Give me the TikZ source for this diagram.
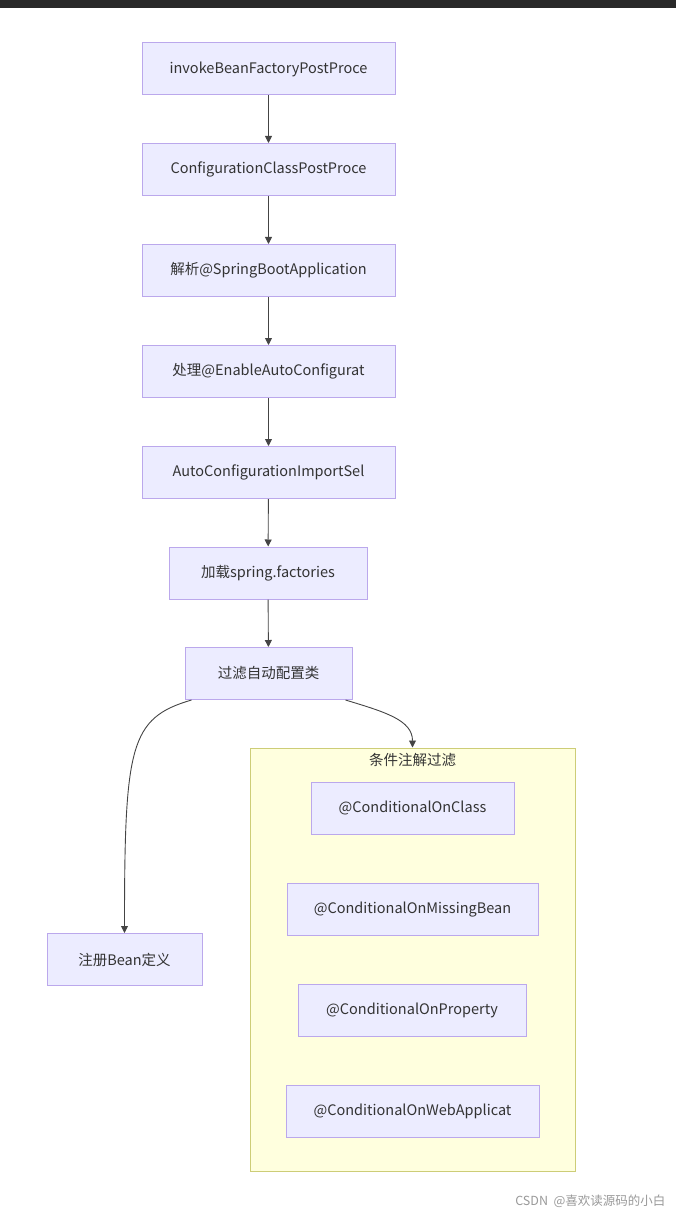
\documentclass[tikz,border=0pt]{standalone}
\usepackage{fontspec}
\setmainfont{Noto Sans CJK SC}
\usetikzlibrary{arrows.meta}
\definecolor{boxfill}{HTML}{ECECFF}
\definecolor{boxline}{HTML}{BBA8EC}
\definecolor{groupfill}{HTML}{FFFFDE}
\definecolor{groupline}{HTML}{CDCD77}
\definecolor{linkcol}{HTML}{444444}
\definecolor{textcol}{HTML}{333333}

\begin{document}
\begin{tikzpicture}[x=1pt,y=-1pt,
        flowbox/.style={draw=boxline, fill=boxfill, line width=1pt, minimum height=52pt,
            inner sep=0pt, text=textcol, font=\fontsize{14.5}{18}\selectfont},
        link/.style={draw=linkcol, line width=0.9pt, -{Triangle[length=7pt,width=7pt]}}]
        \useasboundingbox (0,0) rectangle (676,1214);
        \fill[black!84] (0,0) rectangle (676,8);
        % main chain
        \node[flowbox, minimum width=253pt] (invoke) at (268.5,69) {invokeBeanFactoryPostProce};
        \node[flowbox, minimum width=253pt] (ccpp) at (268.5,169.5) {ConfigurationClassPostProce};
        \node[flowbox, minimum width=253pt] (parse) at (268.5,270.5) {解析@SpringBootApplication};
        \node[flowbox, minimum width=253pt] (enable) at (268.5,371.5) {处理@EnableAutoConfigurat};
        \node[flowbox, minimum width=253pt] (selector) at (268.5,472.5) {AutoConfigurationImportSel};
        \node[flowbox, minimum width=198pt] (load) at (268,573) {加载spring.factories};
        \node[flowbox, minimum width=167pt] (filter) at (268.5,673.5) {过滤自动配置类};
        \draw[link] (invoke) -- (ccpp);
        \draw[link] (ccpp) -- (parse);
        \draw[link] (parse) -- (enable);
        \draw[link] (enable) -- (selector);
        \draw[link] (selector) -- (load);
        \draw[link] (load) -- (filter);
        %
        % condition group
        \node[draw=groupline, fill=groupfill, line width=1pt, minimum width=325pt,
            minimum height=423pt, inner sep=0pt] (group) at (412.5,959.5) {};
        \node[text=textcol, font=\fontsize{14.5}{18}\selectfont, anchor=north] (gtitle)
            at ([yshift=-2pt]group.north) {条件注解过滤};
        \node[flowbox, minimum width=203pt] (onclass) at (412.5,808) {@ConditionalOnClass};
        \node[flowbox, minimum width=251pt] (onmissing) at (412.5,909.5) {@ConditionalOnMissingBean};
        \node[flowbox, minimum width=228pt] (onprop) at (412,1010.5) {@ConditionalOnProperty};
        \node[flowbox, minimum width=253pt] (onweb) at (412.5,1111) {@ConditionalOnWebApplicat};
        %
        \node[flowbox, minimum width=155pt] (register) at (124.5,959.5) {注册Bean定义};
        \draw[link] ([xshift=7pt]filter.south west) .. controls (130,718) and (124.5,745) .. (register.north);
        \draw[link] ([xshift=-7pt]filter.south east) .. controls (385,712) and (412.5,720) .. (group.north);
        %
        \node[text=black!40, font=\fontsize{12.5}{15}\selectfont, anchor=east] (mark) at (669,1201) {CSDN\ \ @喜欢读源码的小白};
    \end{tikzpicture}
\end{document}
